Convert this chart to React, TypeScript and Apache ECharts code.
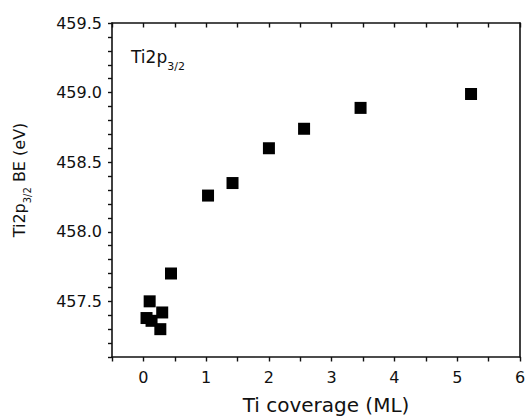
import React, { useEffect, useRef } from "react";
import * as echarts from "echarts";

const coverageML = [0.05, 0.10, 0.13, 0.27, 0.30, 0.44, 1.03, 1.42, 2.00, 2.56, 3.46, 5.22];
const bindingEnergy = [457.38, 457.50, 457.36, 457.30, 457.42, 457.70, 458.26, 458.35, 458.60, 458.74, 458.89, 458.99];

const FONT = "DejaVu Sans";
const INK = "#111";
const W = 526;
const H = 418;

export default function App() {
  const ref = useRef<HTMLDivElement>(null);
  useEffect(() => {
    if (!ref.current) return;
    const chart = echarts.init(ref.current, null, { renderer: "svg" });
    const line = () => ({ show: true, onZero: false, lineStyle: { color: INK, width: 1.6 } });
    const tick = (len: number, inside: boolean) => ({ show: true, inside, length: len, lineStyle: { color: INK, width: 1.4 } });
    chart.setOption({
      animation: false,
      title: {
        text: "{a|Ti2p}{b|3/2}",
        left: 131,
        top: 41,
        padding: 0,
        textStyle: {
          fontWeight: "normal",
          rich: {
            a: { fontFamily: FONT, fontSize: 17, color: INK, fontWeight: "normal" },
            b: { fontFamily: FONT, fontSize: 11, color: INK, fontWeight: "normal", padding: [20, 0, 0, 0] },
          },
        },
      },
      grid: { left: 112, right: 6, top: 23, bottom: 61, outerBoundsMode: "none", containLabel: false },
      xAxis: [
        {
          type: "value", min: -0.5, max: 6, interval: 0.5, position: "bottom", splitLine: { show: false },
          name: "Ti coverage (ML)",
          nameLocation: "middle",
          nameGap: 38,
          nameTextStyle: { fontFamily: FONT, fontSize: 20, color: INK, padding: [0, 0, 0, 20] },
          axisLine: line(),
          axisTick: tick(4.5, false),
          axisLabel: {
            fontFamily: FONT, fontSize: 16, color: INK, margin: 12,
            formatter: (v: number) => (Math.abs(v - Math.round(v)) < 1e-6 ? String(Math.round(v)) : ""),
          },
        },
        {
          type: "value", min: -0.5, max: 6, interval: 0.5, position: "top", splitLine: { show: false },
          axisLine: line(),
          axisTick: tick(4.5, true),
          axisLabel: { show: true, formatter: () => "" },
        },
      ],
      yAxis: [
        {
          type: "value", min: 457.1, max: 459.5, interval: 0.1, position: "left", splitLine: { show: false },
          name: "{a|Ti2p}{b|3/2}{a| BE (eV)}",
          nameLocation: "middle",
          nameRotate: 90,
          nameGap: 80,
          nameTextStyle: {
            padding: [0, 0, 0, 20],
            rich: {
              a: { fontFamily: FONT, fontSize: 16, color: INK },
              b: { fontFamily: FONT, fontSize: 10, color: INK, padding: [16, 0, 0, 0] },
            },
          },
          axisLine: line(),
          axisTick: tick(4, false),
          axisLabel: {
            fontFamily: FONT, fontSize: 16, color: INK, margin: 10,
            formatter: (v: number) => (Math.abs(v * 2 - Math.round(v * 2)) < 1e-6 ? v.toFixed(1) : ""),
          },
        },
        {
          type: "value", min: 457.1, max: 459.5, interval: 0.1, position: "right", splitLine: { show: false },
          axisLine: line(),
          axisTick: { show: false },
          axisLabel: { show: true, formatter: () => "" },
        },
      ],
      series: [
        {
          type: "scatter",
          xAxisIndex: 0,
          yAxisIndex: 0,
          symbol: "rect",
          symbolSize: 12,
          itemStyle: { color: "#000", opacity: 1 },
          data: coverageML.map((x, i) => [x, bindingEnergy[i]]),
        },
      ],
    });
    return () => chart.dispose();
  }, []);
  return <div ref={ref} style={{ position: "absolute", left: 0, top: 0, width: W, height: H }} />;
}
